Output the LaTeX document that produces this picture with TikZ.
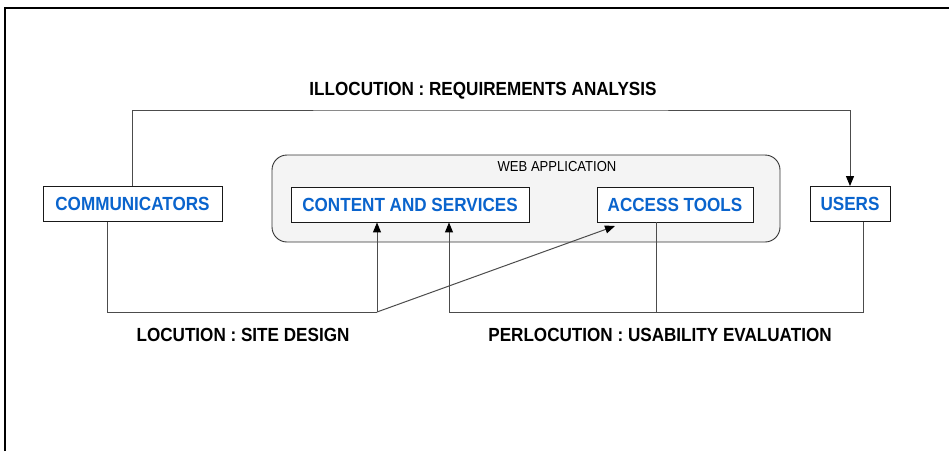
\documentclass[tikz,border=0pt]{standalone}
\usepackage{fontspec}
\setmainfont{Liberation Sans}
\newfontfamily\narrowfont[FakeStretch=0.9]{Liberation Sans}
\usetikzlibrary{positioning,arrows.meta}

\definecolor{actblue}{RGB}{10,100,205}

\begin{document}
\begin{tikzpicture}[x=1pt,y=-1pt,>={Triangle[length=10pt,width=8pt,color=black]}]
\tikzstyle{every node}=[inner sep=0pt]
\tikzstyle{actor}=[draw=black!90,line width=0.9pt,fill=white,minimum height=35pt,
  text=actblue,font=\narrowfont\fontsize{19}{22}\selectfont\bfseries]
\tikzstyle{speech}=[font=\narrowfont\fontsize{19}{22}\selectfont\bfseries]
\tikzstyle{link}=[draw=black!70,line width=1pt]

\useasboundingbox (0,0) rectangle (949,451);
\draw[line width=2.2pt] (5,451) -- (5,8) -- (949,8);

% the web application frame
\node[draw=black!80,line width=0.9pt,fill=gray!9,rounded corners=15pt,
  minimum width=508pt,minimum height=87pt] (web) at (526,198.5) {};
\node[font=\narrowfont\fontsize{14.5}{16}\selectfont] (webtitle) at (557,167) {WEB APPLICATION};

\node[actor,minimum width=179pt] (comm) at (132.5,204) {COMMUNICATORS};
\node[actor,minimum width=238pt] (content) at (410,204.5) {CONTENT AND SERVICES};
\node[actor,minimum width=156pt] (access) at (675,204.5) {ACCESS TOOLS};
\node[actor,minimum width=80pt] (users) at (850,204) {USERS};

\node[speech] (illoc) at (483,91) {ILLOCUTION : REQUIREMENTS ANALYSIS};
\node[speech] (loc) at (243,335) {LOCUTION : SITE DESIGN};
\node[speech] (perloc) at (660,335) {PERLOCUTION : USABILITY EVALUATION};

\coordinate (top) at (490,110);
\coordinate (locL) at (107,312);
\coordinate (locR) at (377,312);
\coordinate (accTip) at (615,226);
\coordinate (perL) at (449,312);
\coordinate (perM) at (656,312);
\coordinate (perR) at (863,312);

% illocution
\draw[link,->] (comm.north) |- (top) -| (users.north);
% locution
\draw[link] (comm.south -| locL) -- (locL) -- (locR);
\draw[link,->] (locR) -- (content.south -| locR);
\draw[link,->] (locR) -- (accTip);
% perlocution
\draw[link,->] (users.south -| perR) -- (perR) -- (perL) -- (content.south -| perL);
\draw[link] (access.south -| perM) -- (perM);
\end{tikzpicture}
\end{document}
